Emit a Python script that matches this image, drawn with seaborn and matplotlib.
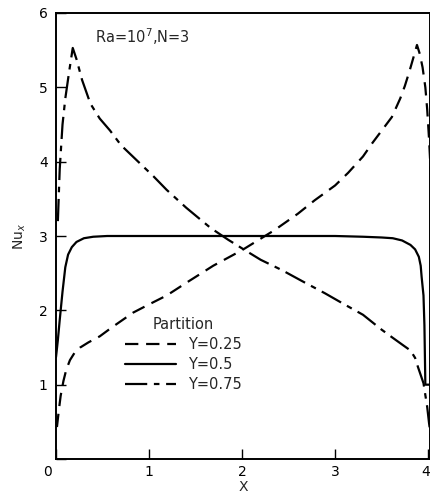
import numpy as np
import pandas as pd
import matplotlib
matplotlib.use("Agg")
import matplotlib.pyplot as plt
import matplotlib.transforms as mtransforms
import seaborn as sns

# Y = 0.25 (dashed)
x_025 = [0.01, 0.03, 0.05, 0.08, 0.11, 0.15, 0.20, 0.26, 0.35, 0.47, 0.60, 0.83, 1.00, 1.19, 1.40, 1.69,
         2.00, 2.35, 2.60, 2.78, 3.00, 3.14, 3.30, 3.40, 3.52, 3.61, 3.70, 3.75, 3.80, 3.86, 3.88, 3.91,
         3.94, 3.97, 3.99, 4.01, 4.03, 4.05]
y_025 = [0.43, 0.65, 0.85, 1.05, 1.20, 1.33, 1.43, 1.50, 1.57, 1.65, 1.77, 1.97, 2.08, 2.20, 2.37, 2.60,
         2.81, 3.08, 3.30, 3.48, 3.68, 3.85, 4.07, 4.25, 4.45, 4.60, 4.85, 5.02, 5.22, 5.48, 5.57, 5.45,
         5.27, 5.00, 4.70, 4.30, 3.80, 3.20]

# Y = 0.5 (solid)
x_050 = [0.00, 0.02, 0.04, 0.07, 0.10, 0.13, 0.17, 0.22, 0.30, 0.40, 0.55, 1.00, 2.00, 3.00, 3.30, 3.50,
         3.62, 3.72, 3.81, 3.86, 3.90, 3.92, 3.93, 3.95, 3.96, 3.97, 4.05]
y_050 = [1.37, 1.60, 1.87, 2.25, 2.58, 2.75, 2.85, 2.92, 2.97, 2.99, 3.00, 3.00, 3.00, 3.00, 2.99, 2.98,
         2.97, 2.94, 2.88, 2.82, 2.72, 2.60, 2.45, 2.20, 1.80, 1.00, 1.00]

# Y = 0.75 (dash-dot)
x_075 = [0.02, 0.04, 0.07, 0.10, 0.14, 0.18, 0.22, 0.28, 0.37, 0.47, 0.58, 0.70, 0.90, 1.05, 1.19, 1.40,
         1.66, 1.85, 2.03, 2.20, 2.43, 2.65, 2.89, 3.10, 3.30, 3.50, 3.62, 3.72, 3.81, 3.86, 3.89, 3.92,
         3.95, 3.97, 3.99, 4.01, 4.04]
y_075 = [3.20, 3.90, 4.50, 4.85, 5.20, 5.53, 5.38, 5.10, 4.78, 4.58, 4.42, 4.22, 3.98, 3.80, 3.62, 3.38,
         3.11, 2.95, 2.81, 2.68, 2.54, 2.39, 2.23, 2.08, 1.94, 1.74, 1.63, 1.54, 1.46, 1.36, 1.24, 1.13,
         1.02, 0.86, 0.70, 0.48, 0.20]

series_labels = ["Y=0.25", "Y=0.5", "Y=0.75"]
x_ticks = [0, 1, 2, 3, 4]
y_ticks = [0, 1, 2, 3, 4, 5, 6]
y_tick_labels = ["", "1", "2", "3", "4", "5", "6"]

df = pd.concat([
    pd.DataFrame({"X": x_025, "Nu": y_025, "Partition": series_labels[0]}),
    pd.DataFrame({"X": x_050, "Nu": y_050, "Partition": series_labels[1]}),
    pd.DataFrame({"X": x_075, "Nu": y_075, "Partition": series_labels[2]}),
], ignore_index=True)

sns.set_style("ticks")
plt.rcParams["font.family"] = ["DejaVu Sans"]

fig = plt.figure(figsize=(4.30, 4.98), dpi=100)
ax = fig.add_axes([56 / 430, 39 / 498, (430 - 56) / 430, (459 - 13) / 498])

sns.lineplot(
    data=df, x="X", y="Nu", hue="Partition", style="Partition",
    palette={s: "black" for s in series_labels},
    dashes={series_labels[0]: (6, 3.5), series_labels[1]: "", series_labels[2]: (10, 3, 2.5, 3)},
    linewidth=1.6, sort=False, estimator=None, ax=ax,
)

ax.set_xlim(0, 4.02)
ax.set_ylim(0, 6)
ax.set_xticks(x_ticks)
ax.set_yticks(y_ticks)
ax.set_yticklabels(y_tick_labels)
ax.tick_params(direction="in", length=7, width=1, labelsize=10, colors="black")
ax.tick_params(axis="x", pad=4)
ax.tick_params(axis="y", pad=6)
for s in ["left", "bottom", "top", "right"]:
    ax.spines[s].set_linewidth(1.4)
    ax.spines[s].set_color("black")

# nudge the x "0" label left and the "4" label slightly left so it stays in view
xlabels = ax.get_xticklabels()
xlabels[0].set_transform(xlabels[0].get_transform() +
                         mtransforms.ScaledTranslation(-9 / 100, 0, fig.dpi_scale_trans))
xlabels[-1].set_transform(xlabels[-1].get_transform() +
                          mtransforms.ScaledTranslation(-2 / 100, 0, fig.dpi_scale_trans))

ax.set_xlabel("X", fontsize=10, labelpad=1)
ax.set_ylabel("Nu$_x$", fontsize=10, labelpad=8)

ax.text(0.42, 5.68, "Ra=10$^7$,N=3", fontsize=10.5, ha="left", va="center")

leg = ax.legend(title="Partition", frameon=False, loc="upper left",
                bbox_to_anchor=(0.185, 0.318), borderaxespad=0, borderpad=0,
                fontsize=10.5, title_fontsize=10.5,
                handlelength=3.5, handletextpad=0.8, labelspacing=0.35)

fig.savefig("out.png", dpi=100)
